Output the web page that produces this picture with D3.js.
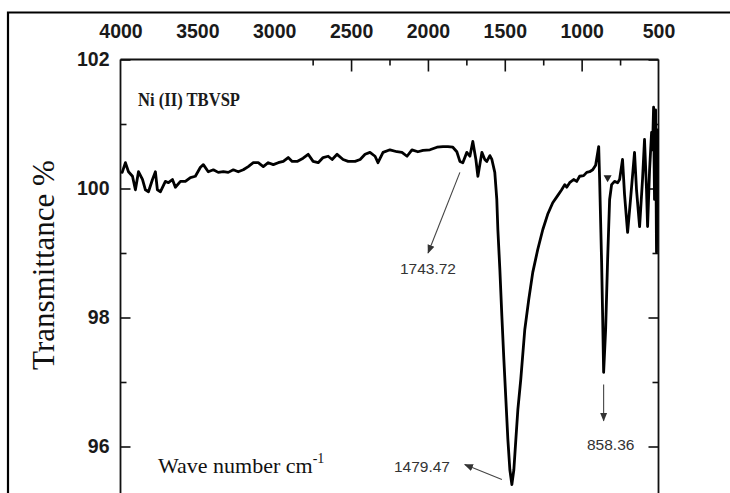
<!DOCTYPE html>
<html><head><meta charset="utf-8">
<script src="https://cdn.jsdelivr.net/npm/d3@7"></script>
<style>body{margin:0;background:#fff;} svg{display:block}</style>
</head><body><svg id="c" width="730" height="493"></svg>
<script>
// ---- data ----
const wavenumber = [3989,3968,3948,3922,3903,3883,3857,3838,3818,3792,3773,3760,3740,3708,3688,3662,3643,3610,3578,3545,3513,3480,3461,3429,3396,3364,3331,3299,3266,3234,3201,3169,3136,3104,3071,3039,3006,2974,2941,2909,2883,2851,2812,2779,2747,2714,2682,2649,2623,2591,2552,2519,2474,2441,2409,2377,2344,2325,2292,2247,2201,2169,2136,2104,2065,2032,1987,1941,1902,1870,1838,1812,1792,1773,1747,1727,1708,1688,1675,1649,1630,1617,1597,1584,1565,1552,1545,1532,1519,1506,1493,1480,1467,1454,1441,1428,1415,1396,1370,1344,1318,1286,1253,1221,1188,1156,1130,1110,1097,1078,1052,1032,1013,987,967,948,928,909,889,883,870,863,857,844,831,818,805,786,766,753,734,721,701,682,656,643,623,604,591,578,571,558,545,539,532,526,519,513,506];
const transmittance = [100.25,100.40,100.26,100.19,99.98,100.26,100.14,99.98,99.95,100.14,100.26,99.98,99.95,100.11,100.09,100.14,100.02,100.11,100.11,100.17,100.19,100.33,100.37,100.26,100.29,100.25,100.26,100.25,100.29,100.26,100.29,100.34,100.40,100.40,100.34,100.40,100.37,100.40,100.42,100.48,100.42,100.42,100.47,100.53,100.42,100.40,100.48,100.50,100.45,100.53,100.45,100.42,100.42,100.45,100.53,100.56,100.50,100.40,100.56,100.60,100.57,100.56,100.50,100.60,100.57,100.59,100.60,100.64,100.65,100.65,100.64,100.57,100.42,100.40,100.56,100.50,100.73,100.45,100.19,100.56,100.45,100.42,100.51,100.45,100.25,99.83,99.36,98.74,98.02,97.35,96.73,96.11,95.64,95.41,95.64,96.11,96.57,97.04,97.81,98.28,98.70,99.05,99.36,99.60,99.78,99.89,99.98,100.06,100.02,100.09,100.14,100.11,100.19,100.20,100.25,100.26,100.29,100.36,100.65,100.14,98.85,97.97,97.15,97.81,98.90,99.83,100.06,100.11,100.09,100.14,100.45,99.91,99.32,99.83,100.56,99.98,99.41,100.14,100.76,99.98,99.41,100.29,100.87,100.60,101.26,99.83,101.22,99.01,100.91];
const xTickLabels = [4000,3500,3000,2500,2000,1500,1000,500];
const xInnerMajorTicks = [2500,2000,1500,1000];
const xInnerMinorTicks = [2750,2250,1750,1250,750];
const yTickLabels = [102,100,98,96];
const yMinorTicks = [101,99,97];
const peakLabels = ["1743.72","1479.47","858.36"];
const arrowFromWn = [1792,1519,857];
const arrowFromT = [100.25,95.49,96.96];
const arrowToWn = [1999,1760,857];
const arrowToT = [99.0,95.72,96.40];
const labelWn = [2000,2039,811];
const labelT = [98.76,95.69,96.03];
const markerWn = [831];
const markerT = [100.17];
const sampleName = "Ni (II) TBVSP";
const yTitle = "Transmittance %";
const xTitle = "Wave number cm";

// ---- chart ----
const svg = d3.select("#c");
const x = d3.scaleLinear().domain([4000,500]).range([120.5,658.5]);
const y = d3.scaleLinear().domain([102,95]).range([59.5,511]);
const tickFont = "'Liberation Sans', Arial, sans-serif";
const serif = "'Liberation Serif', 'Times New Roman', serif";
const fmt = d3.format("d");

// outer frame
svg.append("path").attr("d","M8,500 L8,12.5 L740,12.5").attr("fill","none").attr("stroke","#000").attr("stroke-width",2.2);

// plot frame lines
const frame = svg.append("g").attr("stroke","#111").attr("stroke-width",1.8).attr("fill","none");
frame.append("line").attr("x1",x(4000)).attr("x2",x(500)).attr("y1",y(102)).attr("y2",y(102));
frame.append("line").attr("x1",x(4000)).attr("x2",x(4000)).attr("y1",y(102)).attr("y2",500);
frame.append("line").attr("x1",x(500)).attr("x2",x(500)).attr("y1",y(102)).attr("y2",500);

// top labels
const gTop = svg.append("g").attr("transform",`translate(0,${y(102)})`)
  .call(d3.axisTop(x).tickValues(xTickLabels).tickFormat(fmt).tickSize(0).tickPadding(21.5));
gTop.select(".domain").remove();
gTop.selectAll("text").attr("font-family",tickFont).attr("font-weight","bold").attr("font-size",19.5).attr("fill","#1a1a1a");

// inner ticks on top
const gTopMaj = svg.append("g").attr("transform",`translate(0,${y(102)})`)
  .call(d3.axisBottom(x).tickValues(xInnerMajorTicks).tickSize(12).tickFormat(""));
gTopMaj.select(".domain").remove();
const gTopMin = svg.append("g").attr("transform",`translate(0,${y(102)})`)
  .call(d3.axisBottom(x).tickValues(xInnerMinorTicks).tickSize(6).tickFormat(""));
gTopMin.select(".domain").remove();
svg.selectAll(".tick line").attr("stroke","#111").attr("stroke-width",1.6);

// left labels
const gLeft = svg.append("g").attr("transform",`translate(${x(4000)},0)`)
  .call(d3.axisLeft(y).tickValues(yTickLabels).tickFormat(fmt).tickSize(0).tickPadding(11));
gLeft.select(".domain").remove();
gLeft.selectAll("text").attr("font-family",tickFont).attr("font-weight","bold").attr("font-size",19.5).attr("fill","#1a1a1a");

function innerTicks(axisFn, xpos, vals, size){
  const g = svg.append("g").attr("transform",`translate(${xpos},0)`)
    .call(axisFn(y).tickValues(vals).tickSize(size).tickFormat(""));
  g.select(".domain").remove();
  g.selectAll(".tick line").attr("stroke","#111").attr("stroke-width",1.6);
}
innerTicks(d3.axisRight, x(4000), yTickLabels, 10);
innerTicks(d3.axisRight, x(4000), yMinorTicks, 6);
innerTicks(d3.axisLeft, x(500), yTickLabels, 10);
innerTicks(d3.axisLeft, x(500), yMinorTicks, 6);

// spectrum
const pts = wavenumber.map((w,i)=>[w,transmittance[i]]);
svg.append("path").datum(pts)
  .attr("d", d3.line().x(d=>x(d[0])).y(d=>y(d[1])))
  .attr("fill","none").attr("stroke","#000").attr("stroke-width",2.8)
  .attr("stroke-linejoin","round").attr("stroke-linecap","round");

// triangle marker
svg.selectAll(".mk").data(markerWn).enter().append("path")
  .attr("d", d3.symbol(d3.symbolTriangle, 28)())
  .attr("transform",(d,i)=>`translate(${x(d)},${y(markerT[i])}) rotate(180)`)
  .attr("fill","#222");

// arrows
const defs = svg.append("defs");
defs.append("marker").attr("id","ah").attr("viewBox","0 0 10 10").attr("refX",9).attr("refY",5)
  .attr("markerWidth",9).attr("markerHeight",9).attr("markerUnits","userSpaceOnUse").attr("orient","auto")
  .append("path").attr("d","M0,1 L10,5 L0,9 Z").attr("fill","#333");
peakLabels.forEach((lab,i)=>{
  svg.append("line").attr("x1",x(arrowFromWn[i])).attr("y1",y(arrowFromT[i]))
    .attr("x2",x(arrowToWn[i])).attr("y2",y(arrowToT[i]))
    .attr("stroke","#444").attr("stroke-width",1.1).attr("marker-end","url(#ah)");
  svg.append("text").attr("x",x(labelWn[i])).attr("y",y(labelT[i])).attr("dy","0.35em")
    .attr("text-anchor","middle").attr("font-family",tickFont).attr("font-size",15.5)
    .attr("fill","#333").text(lab);
});

// sample name
svg.append("text").attr("x",138).attr("y",106).attr("font-family",serif).attr("font-weight","bold")
  .attr("font-size",18).attr("textLength",102).attr("lengthAdjust","spacingAndGlyphs")
  .attr("fill","#1a1a1a").text(sampleName);

// y title
svg.append("text").attr("transform","translate(54,265) rotate(-90)").attr("text-anchor","middle")
  .attr("font-family",serif).attr("font-size",31).attr("fill","#111").text(yTitle);

// x title
const xt = svg.append("text").attr("x",158).attr("y",473).attr("font-family",serif).attr("font-size",22).attr("fill","#111");
xt.append("tspan").text(xTitle);
xt.append("tspan").attr("font-size",14).attr("dy",-10).text("-1");
</script></body></html>
